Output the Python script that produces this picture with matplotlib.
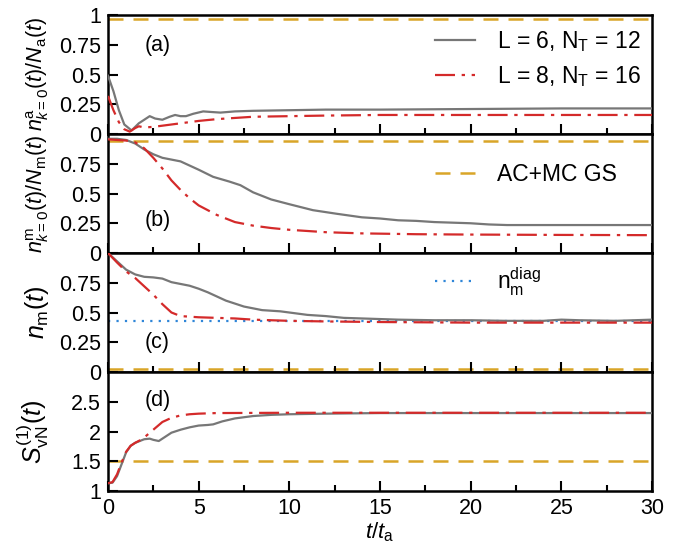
import numpy as np
import matplotlib
matplotlib.use('Agg')
import matplotlib.pyplot as plt
from matplotlib.ticker import MultipleLocator, FixedLocator, FixedFormatter
from matplotlib.lines import Line2D

plt.rcParams['font.family'] = ['Liberation Sans', 'DejaVu Sans']
plt.rcParams['mathtext.fontset'] = 'custom'
plt.rcParams['mathtext.rm'] = 'Liberation Sans'
plt.rcParams['mathtext.it'] = 'Liberation Sans:italic'
plt.rcParams['mathtext.bf'] = 'Liberation Sans:bold'
plt.rcParams['font.size'] = 15

# panel (a): condensate fraction of atoms
ta_l6 = [0, 0.3, 0.6, 0.9, 1.3, 1.7, 2.3, 2.6, 3.0, 3.4, 3.7, 4.0, 4.3, 4.7, 5.25, 5.7, 6.2, 7, 8, 10, 12, 15, 20, 25, 30]
a_l6 = [0.49, 0.36, 0.2, 0.08, 0.03, 0.09, 0.15, 0.13, 0.12, 0.145, 0.16, 0.15, 0.15, 0.17, 0.19, 0.185, 0.18, 0.19, 0.195, 0.2, 0.205, 0.205, 0.21, 0.215, 0.215]
ta_l8 = [0, 0.3, 0.6, 0.9, 1.2, 1.5, 1.7, 2.0, 2.5, 3, 4, 5, 6, 7, 8, 10, 12, 15, 20, 25, 30]
a_l8 = [0.32, 0.2, 0.1, 0.04, 0.02, 0.05, 0.065, 0.055, 0.06, 0.07, 0.09, 0.11, 0.125, 0.135, 0.145, 0.15, 0.155, 0.16, 0.16, 0.16, 0.16]
gs_a = 0.965

# panel (b): condensate fraction of molecules
tb_l6 = [0, 0.5, 1, 1.5, 2, 2.5, 3, 3.5, 4, 5, 5.8, 6.7, 7.3, 8, 9, 10, 11.3, 12.6, 14, 15, 16, 17, 18, 19, 20, 21, 22, 25, 28, 30]
b_l6 = [0.96, 0.96, 0.95, 0.92, 0.87, 0.83, 0.8, 0.785, 0.77, 0.7, 0.64, 0.6, 0.57, 0.51, 0.45, 0.41, 0.36, 0.33, 0.3, 0.29, 0.275, 0.27, 0.26, 0.255, 0.25, 0.24, 0.235, 0.235, 0.235, 0.235]
tb_l8 = [0, 1, 1.5, 2, 2.5, 3, 3.5, 4, 4.5, 5, 5.5, 6, 6.5, 7, 8, 9, 10, 12, 14, 17, 20, 25, 30]
b_l8 = [0.955, 0.945, 0.93, 0.88, 0.8, 0.71, 0.61, 0.53, 0.46, 0.4, 0.36, 0.32, 0.29, 0.26, 0.23, 0.21, 0.195, 0.175, 0.165, 0.158, 0.155, 0.152, 0.15]
gs_b = 0.94

# panel (c): molecular fraction
tc_l6 = [0, 0.5, 1, 1.5, 2, 2.5, 3, 3.5, 4, 4.5, 5, 5.5, 6, 6.5, 7, 7.5, 8, 8.5, 9.5, 10, 11, 12, 13, 14, 16, 18, 20, 22, 24, 25, 26, 28, 30]
c_l6 = [1.0, 0.93, 0.86, 0.82, 0.8, 0.795, 0.785, 0.755, 0.74, 0.725, 0.7, 0.67, 0.635, 0.6, 0.575, 0.55, 0.535, 0.52, 0.51, 0.5, 0.48, 0.47, 0.455, 0.45, 0.44, 0.435, 0.435, 0.43, 0.43, 0.44, 0.435, 0.43, 0.44]
tc_l8 = [0, 0.5, 1, 1.5, 2, 2.5, 3, 3.5, 4, 4.5, 5, 6, 7, 8, 10, 12, 15, 20, 30]
c_l8 = [1.0, 0.92, 0.845, 0.79, 0.72, 0.65, 0.57, 0.5, 0.47, 0.465, 0.46, 0.455, 0.45, 0.44, 0.43, 0.425, 0.42, 0.415, 0.415]
n_diag = 0.43
gs_c = 0.025

# panel (d): von Neumann entropy
td_l6 = [0, 0.25, 0.5, 0.75, 1, 1.25, 1.5, 2, 2.3, 2.5, 2.8, 3.1, 3.5, 4, 4.5, 5, 5.5, 5.8, 6.3, 7, 8, 9, 10, 12, 15, 20, 30]
d_l6 = [1.13, 1.14, 1.25, 1.45, 1.65, 1.76, 1.81, 1.87, 1.88, 1.86, 1.84, 1.9, 1.98, 2.03, 2.07, 2.1, 2.11, 2.12, 2.17, 2.22, 2.26, 2.28, 2.29, 2.3, 2.31, 2.31, 2.31]
td_l8 = [0, 0.25, 0.5, 0.75, 1, 1.25, 1.5, 1.75, 2, 2.5, 3, 3.5, 4, 4.5, 5, 6, 10, 20, 30]
d_l8 = [1.13, 1.15, 1.28, 1.48, 1.66, 1.76, 1.81, 1.85, 1.9, 2.03, 2.16, 2.23, 2.27, 2.29, 2.3, 2.31, 2.315, 2.315, 2.315]
gs_d = 1.5

gray = '#777777'
red = '#d42a2a'
gold = '#d9a528'
blue = '#2f86d8'
ls_red = (0, (9, 3, 1.5, 3))
ls_gold = (0, (6, 4))
ls_blue = (0, (1, 2.8))

fig, axs = plt.subplots(4, 1, figsize=(6.9, 5.48), dpi=100, sharex=True)
fig.subplots_adjust(left=0.1565, right=0.945, top=0.9726, bottom=0.104, hspace=0)

data = [(ta_l6, a_l6, ta_l8, a_l8, gs_a),
        (tb_l6, b_l6, tb_l8, b_l8, gs_b),
        (tc_l6, c_l6, tc_l8, c_l8, gs_c),
        (td_l6, d_l6, td_l8, d_l8, gs_d)]

for ax, (t6, y6, t8, y8, gs) in zip(axs, data):
    ax.axhline(gs, color=gold, lw=1.8, ls=ls_gold, label='AC+MC GS', zorder=1)
    ax.plot(t6, y6, color=gray, lw=1.6, label=r'L = 6, N$_\mathrm{T}$ = 12', zorder=3)
    ax.plot(t8, y8, color=red, lw=1.6, ls=ls_red, label=r'L = 8, N$_\mathrm{T}$ = 16', zorder=4)
    ax.set_xlim(0, 30)
    for s in ax.spines.values():
        s.set_linewidth(1.8)
    ax.xaxis.set_major_locator(MultipleLocator(5))
    ax.xaxis.set_minor_locator(MultipleLocator(2.5))
    ax.tick_params(which='both', direction='in', top=False, right=False, width=1.5, labelsize=15.5)
    ax.tick_params(which='major', length=7, pad=5)
    ax.tick_params(which='minor', length=4)
    ax.yaxis.set_label_coords(-0.105, 0.5)

axs[2].axhline(n_diag, color=blue, lw=1.6, ls=ls_blue, zorder=2)

# y axes
frac_ticks = [0, 0.25, 0.5, 0.75, 1]
frac_labels = ['0', '0.25', '0.5', '0.75', '1']
for i, ax in enumerate(axs[:3]):
    ax.set_ylim(0, 1)
    n = 5 if i == 0 else 4
    ax.yaxis.set_major_locator(FixedLocator(frac_ticks[:n]))
    ax.yaxis.set_major_formatter(FixedFormatter(frac_labels[:n]))
axs[3].set_ylim(1, 3)
axs[3].yaxis.set_major_locator(FixedLocator([1, 1.5, 2, 2.5]))
axs[3].yaxis.set_major_formatter(FixedFormatter(['1', '1.5', '2', '2.5']))

axs[0].set_ylabel(r'$n^{\mathrm{a}}_{k=0}(t)/N_{\mathrm{a}}(t)$', fontsize=15.5)
axs[1].set_ylabel(r'$n^{\mathrm{m}}_{k=0}(t)/N_{\mathrm{m}}(t)$', fontsize=15.5)
axs[2].set_ylabel(r'$n_{\mathrm{m}}(t)$', fontsize=18)
axs[3].set_ylabel(r'$S^{(1)}_{\mathrm{vN}}(t)$', fontsize=18)
axs[3].set_xlabel(r'$t/t_{\mathrm{a}}$', fontsize=16, labelpad=1)

for ax, lab, y in zip(axs, ['(a)', '(b)', '(c)', '(d)'], [0.74, 0.27, 0.25, 0.76]):
    ax.text(0.068, y, lab, transform=ax.transAxes, fontsize=15.5, va='center', ha='left')

# legends
h, l = axs[0].get_legend_handles_labels()
axs[0].legend(h[1:], l[1:], loc='center left', bbox_to_anchor=(0.563, 0.63), frameon=False,
              fontsize=16.5, handlelength=1.75, handletextpad=0.95, labelspacing=0.45)
h, l = axs[1].get_legend_handles_labels()
axs[1].legend(h[:1], l[:1], loc='center left', bbox_to_anchor=(0.563, 0.66), frameon=False,
              fontsize=16.5, handlelength=1.75, handletextpad=0.95)
hd = Line2D([], [], color=blue, lw=1.6, ls=ls_blue)
axs[2].legend([hd], [r'n$_\mathrm{m}^\mathrm{diag}$'], loc='center left', bbox_to_anchor=(0.563, 0.76),
              frameon=False, fontsize=16.5, handlelength=1.75, handletextpad=0.95)

fig.savefig('out.png', dpi=100)
